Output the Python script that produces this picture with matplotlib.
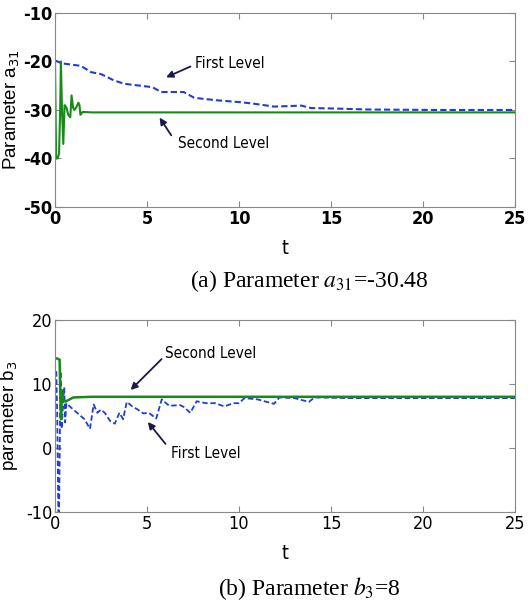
import matplotlib
matplotlib.use("Agg")
import matplotlib.pyplot as plt
from matplotlib import font_manager
from matplotlib.font_manager import FontProperties

plt.rcParams["axes.unicode_minus"] = False


def find_cond(bold):
    for f in font_manager.fontManager.ttflist:
        fn = f.fname.lower()
        if ("narrow" in fn or "condensed" in fn) and "sans" in fn and "mono" not in fn \
                and "oblique" not in fn and "italic" not in fn and (("bold" in fn) == bold):
            return f.fname
    return None


COND = find_cond(False)
COND_B = find_cond(True)


def fp(size, weight="normal"):
    fname = COND_B if (weight == "bold" and COND_B) else COND
    if fname:
        return FontProperties(fname=fname, size=size)
    return FontProperties(family="Liberation Sans", size=size, weight=weight)


# ---------------- data ----------------
t_a_first = [0, 0.4, 1.4, 1.96, 2.5, 3.2, 3.77, 4.86, 5.3, 5.76, 7.0, 7.57, 8.8, 10.1, 10.8,
             11.9, 13.4, 13.9, 15.2, 17.0, 20.6, 25]
a_first = [-19.8, -20.4, -20.9, -22.2, -22.6, -23.9, -24.6, -25.1, -25.3, -26.3, -26.3, -27.5,
           -28.0, -28.4, -28.7, -29.3, -29.1, -29.6, -29.7, -29.9, -30.0, -30.0]
t_a_second = [0, 0.06, 0.14, 0.22, 0.28, 0.32, 0.38, 0.45, 0.52, 0.62, 0.72, 0.83, 0.9, 0.98,
              1.05, 1.15, 1.27, 1.33, 1.38, 1.5, 2, 5, 10, 15, 20, 25]
a_second = [-20, -40, -40, -39, -30, -20, -30, -37, -29, -29.5, -31, -31.5, -27, -29.5, -30,
            -29.5, -28.5, -29, -31, -30.4, -30.5, -30.5, -30.5, -30.5, -30.5, -30.5]

t_b_first = [0.07, 0.12, 0.18, 0.22, 0.3, 0.36, 0.42, 0.5, 0.55, 0.62, 0.8, 1.0, 1.2, 1.4, 1.6,
             1.9, 2.1, 2.3, 2.5, 2.7, 3.0, 3.25, 3.5, 3.7, 3.9, 4.2, 4.5, 4.8, 5.1, 5.5, 5.8,
             6.2, 6.8, 7.0, 7.35, 7.7, 8.2, 8.7, 9.2, 9.7, 10.0, 10.3, 11.0, 11.9, 12.2, 13.0,
             13.8, 14.1, 16, 18, 20, 25]
b_first = [12, 5, -10, -10, 12, 3, 6, 9.5, 4, 7, 6.5, 6.0, 5.5, 5.0, 4.5, 3.0, 6.8, 5.5, 6.0,
           5.5, 4.2, 3.8, 5.5, 4.5, 7.2, 6.5, 6.0, 5.4, 5.5, 4.6, 7.6, 6.6, 6.7, 6.4, 5.5, 7.3,
           7.0, 7.0, 6.5, 7.0, 7.0, 7.8, 7.6, 6.9, 7.9, 7.8, 7.2, 7.9, 7.8, 7.8, 7.8, 7.8]
t_b_second = [0.03, 0.1, 0.25, 0.3, 0.33, 0.38, 0.45, 0.6, 0.8, 1.0, 2.0, 25]
b_second = [14, 14, 13.8, 7, 4.5, 9, 7.3, 7.3, 7.6, 7.9, 8.0, 8.0]

x_ticks = [0, 5, 10, 15, 20, 25]
a_ticks = [-50, -40, -30, -20, -10]
b_ticks = [-10, 0, 10, 20]

BLUE = "#1f3fd0"
GREEN = "#178a1a"
ARROW = "#1a1a4a"

fig = plt.figure(figsize=(5.32, 6.10), dpi=100)
ax1 = fig.add_axes([0.1034, 0.6607, 0.8647, 0.318])
ax2 = fig.add_axes([0.1034, 0.1607, 0.8647, 0.3147])


def style(ax, yticks, bold):
    ax.set_xlim(0, 25)
    ax.set_xticks(x_ticks)
    ax.set_yticks(yticks)
    ax.tick_params(direction="in", top=True, right=True, length=4, color="#888888", pad=2)
    for lab in ax.get_xticklabels() + ax.get_yticklabels():
        lab.set_fontproperties(fp(13, "bold" if bold else "normal"))
    for s in ax.spines.values():
        s.set_color("#888888")
        s.set_linewidth(0.8)


def arrow(ax, head, tail):
    ax.annotate("", xy=head, xytext=tail,
                arrowprops=dict(arrowstyle="-|>", color=ARROW, lw=1.3, mutation_scale=10))


# ---------- panel (a) ----------
ax1.plot(t_a_first, a_first, "--", color=BLUE, lw=1.5, dashes=(3, 1.5))
ax1.plot(t_a_second, a_second, "-", color=GREEN, lw=1.5)
ax1.set_ylim(-50, -10)
style(ax1, a_ticks, True)
ax1.set_xlabel("t", fontproperties=fp(14), labelpad=8)
ax1.set_ylabel("Parameter a$_{31}$", fontfamily="Liberation Sans", fontsize=13.5, labelpad=1)
arrow(ax1, (5.9, -23.5), (7.5, -20.8))
ax1.text(7.6, -20.4, "First Level", fontproperties=fp(11), va="center", ha="left")
arrow(ax1, (5.6, -31.1), (6.4, -35.7))
ax1.text(6.7, -36.9, "Second Level", fontproperties=fp(11), va="center", ha="left")

# ---------- panel (b) ----------
ax2.plot(t_b_first, b_first, "--", color=BLUE, lw=1.3, dashes=(3, 1.5))
ax2.plot(t_b_second, b_second, "-", color=GREEN, lw=1.8)
ax2.set_ylim(-10, 20)
style(ax2, b_ticks, False)
ax2.set_xlabel("t", fontproperties=fp(14), labelpad=8)
ax2.set_ylabel("parameter b$_{3}$", fontfamily="Liberation Sans", fontsize=13.5, labelpad=4)
arrow(ax2, (4.0, 8.75), (5.9, 14.2))
ax2.text(6.0, 14.8, "Second Level", fontproperties=fp(11), va="center", ha="left")
arrow(ax2, (4.95, 4.4), (6.1, 0.3))
ax2.text(6.3, -0.8, "First Level", fontproperties=fp(11), va="center", ha="left")

# ---------- captions ----------
fig.text(190 / 532, 1 - 281 / 610, "(a) Parameter $a_{31}$=-30.48", ha="left", va="center",
         fontfamily="Liberation Serif", fontsize=17, math_fontfamily="stix")
fig.text(218 / 532, 1 - 589 / 610, "(b) Parameter $b_{3}$=8", ha="left", va="center",
         fontfamily="Liberation Serif", fontsize=17, math_fontfamily="stix")

fig.savefig("out.png", dpi=100)
